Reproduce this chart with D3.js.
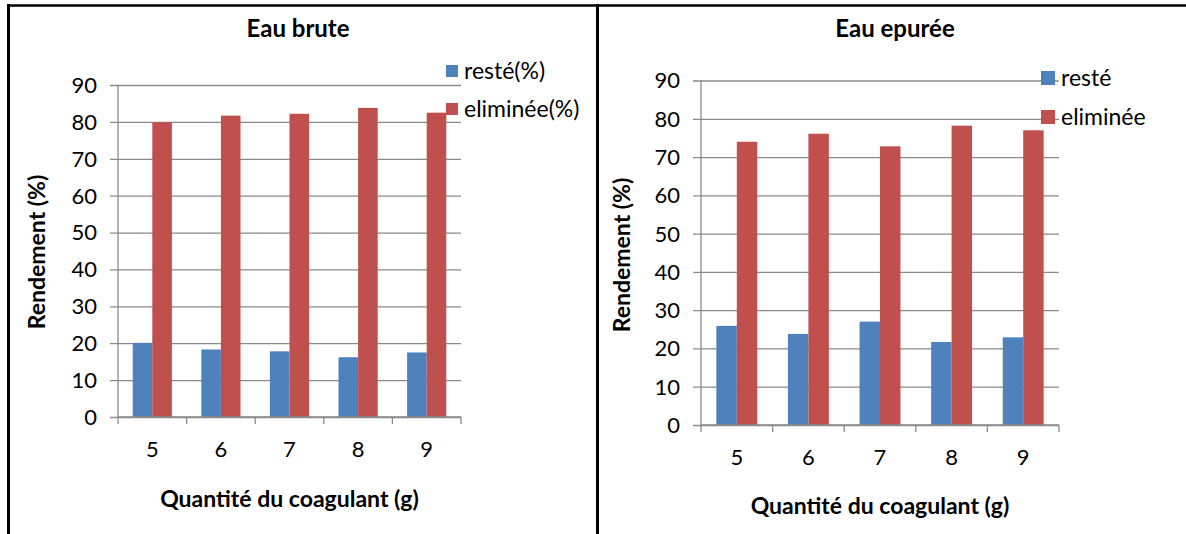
<!DOCTYPE html>
<html>
<head>
<meta charset="utf-8">
<script src="https://cdn.jsdelivr.net/npm/d3@7"></script>
<style>
  html, body { margin: 0; padding: 0; background: #fff; }
  svg { display: block; }
  text { font-family: Lato, "Open Sans", sans-serif; fill: #000; }
  .grid line { stroke: #8a8a8a; stroke-width: 1.3; }
  .grid .domain { display: none; }
</style>
</head>
<body>
<svg id="chart" width="1186" height="534"></svg>
<script>
// Coagulant quantity (g)
const categories = ["5", "6", "7", "8", "9"];

// Raw water: remaining / removed share (%)
const bruteReste = [20.1, 18.3, 17.8, 16.2, 17.5];
const bruteElim  = [79.9, 81.7, 82.2, 83.8, 82.5];

// Treated water: remaining / removed share (%)
const epureeReste = [25.9, 23.8, 27.0, 21.7, 22.9];
const epureeElim  = [74.0, 76.1, 72.8, 78.2, 77.0];

const yTicks = [0, 10, 20, 30, 40, 50, 60, 70, 80, 90];

const bruteLegend  = ["resté(%)", "eliminée(%)"];
const epureeLegend = ["resté", "eliminée"];

const titles = ["Eau brute", "Eau epurée"];
const xTitle = "Quantité du coagulant (g)";
const yTitle = "Rendement (%)";

const colors = ["#4f81bd", "#c0504d"];

const svg = d3.select("#chart");

// Panel frames
const frame = svg.append("g").attr("fill", "none").attr("stroke", "#000");
frame.append("line").attr("x1", 8.5).attr("x2", 8.5).attr("y1", 4).attr("y2", 534).attr("stroke-width", 3);
frame.append("line").attr("x1", 7).attr("x2", 1186).attr("y1", 5.5).attr("y2", 5.5).attr("stroke-width", 2.5);
frame.append("line").attr("x1", 597.5).attr("x2", 597.5).attr("y1", 4).attr("y2", 534).attr("stroke-width", 3);

function drawPanel(p) {
  const g = svg.append("g");
  const x = d3.scaleBand().domain(categories).range([p.left, p.right]).padding(0);
  const xs = d3.scaleBand().domain([0, 1]).range([0, x.bandwidth()])
    .paddingInner(0).paddingOuter(0.75);
  const y = d3.scaleLinear().domain([0, 90]).range([p.bottom, p.top]);

  // horizontal gridlines + y ticks
  g.append("g").attr("class", "grid")
    .attr("transform", `translate(${p.right},0)`)
    .call(d3.axisLeft(y).tickValues(yTicks).tickSize(p.right - p.left + 8).tickFormat(""));

  // y axis line
  g.append("line").attr("x1", p.left).attr("x2", p.left)
    .attr("y1", y(90)).attr("y2", y(0))
    .attr("stroke", "#8a8a8a").attr("stroke-width", 1.3);

  // y tick labels
  g.append("g").selectAll("text").data(yTicks).join("text")
    .attr("x", p.left - 21).attr("y", d => y(d))
    .attr("dy", "0.36em").attr("text-anchor", "end")
    .style("font-size", "22px").text(d => d);

  // bars
  const series = [p.reste, p.elim];
  series.forEach((vals, si) => {
    g.append("g").selectAll("rect").data(vals).join("rect")
      .attr("x", (d, i) => x(categories[i]) + xs(si))
      .attr("width", xs.bandwidth())
      .attr("y", d => y(d))
      .attr("height", d => y(0) - y(d))
      .attr("fill", colors[si]);
  });

  // x axis line and boundary ticks
  g.append("line").attr("x1", p.left).attr("x2", p.right)
    .attr("y1", y(0)).attr("y2", y(0))
    .attr("stroke", "#8a8a8a").attr("stroke-width", 1.3);
  const edges = categories.map(c => x(c)).concat([p.right]);
  g.append("g").selectAll("line").data(edges).join("line")
    .attr("x1", d => d).attr("x2", d => d)
    .attr("y1", y(0)).attr("y2", y(0) + 7)
    .attr("stroke", "#8a8a8a").attr("stroke-width", 1.3);

  // x tick labels
  g.append("g").selectAll("text").data(categories).join("text")
    .attr("x", d => x(d) + x.bandwidth() / 2)
    .attr("y", p.xLabelY).attr("text-anchor", "middle")
    .style("font-size", "22px").text(d => d);

  // titles
  g.append("text").attr("x", p.titleX).attr("y", 37).attr("text-anchor", "middle")
    .style("font-size", "24px").style("font-weight", "bold").text(p.title);
  g.append("text").attr("x", (p.left + p.right) / 2).attr("y", p.xTitleY)
    .attr("text-anchor", "middle")
    .style("font-size", "23px").style("font-weight", "bold").text(xTitle);
  g.append("text")
    .attr("transform", `translate(${p.yTitleX},${p.yTitleY}) rotate(-90)`)
    .attr("text-anchor", "middle").attr("dy", "0.36em")
    .style("font-size", "23px").style("font-weight", "bold").text(yTitle);

  // legend
  const lg = g.append("g");
  p.legend.forEach((label, i) => {
    const cy = p.legendY + i * p.legendStep;
    lg.append("rect").attr("x", p.legendX).attr("y", cy - p.sw / 2)
      .attr("width", p.sw).attr("height", p.sw).attr("fill", colors[i]);
    lg.append("text").attr("x", p.legendX + p.sw + 6).attr("y", cy)
      .attr("dy", "0.36em").style("font-size", "23px").text(label);
  });
}

drawPanel({
  left: 118, right: 461, top: 85, bottom: 417,
  reste: bruteReste, elim: bruteElim,
  title: titles[0], titleX: 298,
  xLabelY: 457, xTitleY: 507,
  yTitleX: 37, yTitleY: 252,
  legend: bruteLegend, legendX: 446, legendY: 71, legendStep: 38, sw: 12
});

drawPanel({
  left: 701, right: 1059, top: 80.5, bottom: 425,
  reste: epureeReste, elim: epureeElim,
  title: titles[1], titleX: 895,
  xLabelY: 465, xTitleY: 514,
  yTitleX: 622, yTitleY: 255,
  legend: epureeLegend, legendX: 1041, legendY: 78, legendStep: 39, sw: 14
});
</script>
</body>
</html>
